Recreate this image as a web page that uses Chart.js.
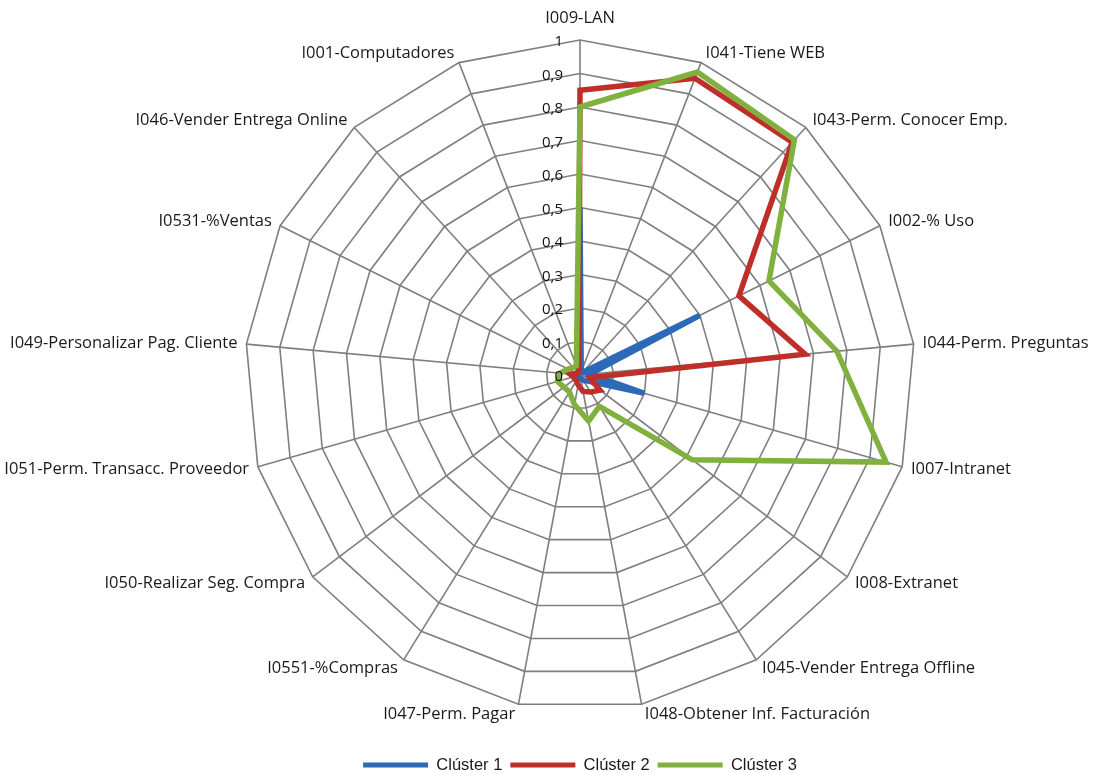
<!DOCTYPE html>
<html>
<head>
<meta charset="utf-8">
<title>Clústeres</title>
<script src="https://cdn.jsdelivr.net/npm/chart.js@4/dist/chart.umd.min.js"></script>
<style>
  html, body { margin: 0; padding: 0; background: #ffffff; overflow: hidden; width: 1102px; height: 773px; }
  canvas { display: block; position: absolute; left: 0; top: 0; }
</style>
</head>
<body>
<canvas id="radar" width="1102" height="784"></canvas>
<script>
// Indicadores (ejes del radar), en sentido horario desde arriba
const categories = [
  'I009-LAN',
  'I041-Tiene WEB',
  'I043-Perm. Conocer Emp.',
  'I002-% Uso',
  'I044-Perm. Preguntas',
  'I007-Intranet',
  'I008-Extranet',
  'I045-Vender Entrega Offline',
  'I048-Obtener Inf. Facturación',
  'I047-Perm. Pagar',
  'I0551-%Compras',
  'I050-Realizar Seg. Compra',
  'I051-Perm. Transacc. Proveedor',
  'I049-Personalizar Pag. Cliente',
  'I0531-%Ventas',
  'I046-Vender Entrega Online',
  'I001-Computadores'
];

const cluster1 = [0.50, 0.01, 0.01, 0.40, 0.03, 0.20, 0.03, 0.02, 0.01, 0.01, 0.01, 0.01, 0.01, 0.01, 0.01, 0.01, 0.01];
const cluster2 = [0.85, 0.95, 0.94, 0.53, 0.675, 0.03, 0.075, 0.06, 0.05, 0.03, 0.02, 0.02, 0.02, 0.03, 0.01, 0.01, 0.01];
const cluster3 = [0.80, 0.97, 0.95, 0.63, 0.77, 0.95, 0.42, 0.11, 0.14, 0.09, 0.06, 0.06, 0.07, 0.06, 0.04, 0.03, 0.03];

const seriesNames = ['Clúster 1', 'Clúster 2', 'Clúster 3'];
const seriesColors = ['#2c69b6', '#bf2f2a', '#80b03e'];

const tickValues = [0, 0.1, 0.2, 0.3, 0.4, 0.5, 0.6, 0.7, 0.8, 0.9, 1];
const tickLabels = ['0', '0,1', '0,2', '0,3', '0,4', '0,5', '0,6', '0,7', '0,8', '0,9', '1'];

const gridColor = '#7f7f7f';
const textColor = '#1a1a1a';

// Etiquetas del eje radial, alineadas a la derecha junto al eje vertical
const radialTickLabels = {
  id: 'radialTickLabels',
  afterDatasetsDraw(chart) {
    const r = chart.scales.r;
    const ctx = chart.ctx;
    ctx.save();
    ctx.font = '15px "Open Sans", sans-serif';
    ctx.fillStyle = '#111111';
    ctx.textAlign = 'right';
    ctx.textBaseline = 'middle';
    tickValues.forEach((v, i) => {
      const p = r.getPointPositionForValue(0, v);
      ctx.fillText(tickLabels[i], p.x - 17, p.y + 2);
    });
    ctx.restore();
  }
};

// Nombres de los indicadores junto a cada vértice exterior del polígono
const categoryLabels = {
  id: 'categoryLabels',
  afterDatasetsDraw(chart) {
    const r = chart.scales.r;
    const ctx = chart.ctx;
    ctx.save();
    ctx.font = '16.5px "Open Sans", sans-serif';
    ctx.fillStyle = textColor;
    ctx.textBaseline = 'middle';
    categories.forEach((label, i) => {
      const a = r.getIndexAngle(i);
      const dx = Math.sin(a);
      const dy = -Math.cos(a);
      const p = r.getPointPosition(i, r.drawingArea);
      let x = p.x;
      let y = p.y + dy * 10;
      if (Math.abs(dx) < 0.05) {
        ctx.textAlign = 'center';
        y += dy * 12;
      } else {
        ctx.textAlign = dx > 0 ? 'left' : 'right';
        x += Math.sign(dx) * (2 + 7 * Math.abs(dx));
      }
      ctx.fillText(label, x, y);
    });
    ctx.restore();
  }
};

const datasets = [cluster1, cluster2, cluster3].map((values, i) => ({
  label: seriesNames[i],
  data: values,
  borderColor: seriesColors[i],
  backgroundColor: seriesColors[i],
  borderWidth: 5.5,
  borderJoinStyle: 'miter',
  pointRadius: 0,
  pointHoverRadius: 0,
  fill: false,
  tension: 0,
  order: 3 - i
}));

new Chart(document.getElementById('radar'), {
  type: 'radar',
  data: { labels: categories, datasets },
  options: {
    responsive: false,
    animation: false,
    devicePixelRatio: 1,
    layout: { padding: { top: 40, left: 58, right: 0, bottom: 0.75 } },
    scales: {
      r: {
        min: 0,
        max: 1,
        ticks: { stepSize: 0.1, display: false },
        grid: { color: gridColor, lineWidth: 1.6 },
        angleLines: { color: gridColor, lineWidth: 1.6 },
        pointLabels: { display: false }
      }
    },
    plugins: {
      tooltip: { enabled: false },
      legend: {
        position: 'bottom',
        title: { display: true, text: '', padding: { top: 33.75, bottom: 0 }, font: { size: 5, lineHeight: 1 } },
        labels: {
          boxWidth: 65,
          boxHeight: 5,
          padding: 8,
          color: textColor,
          font: { family: '"Liberation Sans", Arial, sans-serif', size: 16.5 },
          sort: (a, b) => a.datasetIndex - b.datasetIndex,
          generateLabels: (chart) =>
            Chart.defaults.plugins.legend.labels.generateLabels(chart).map(item => ({ ...item, lineWidth: 0 }))
        }
      }
    }
  },
  plugins: [radialTickLabels, categoryLabels]
});
</script>
</body>
</html>
